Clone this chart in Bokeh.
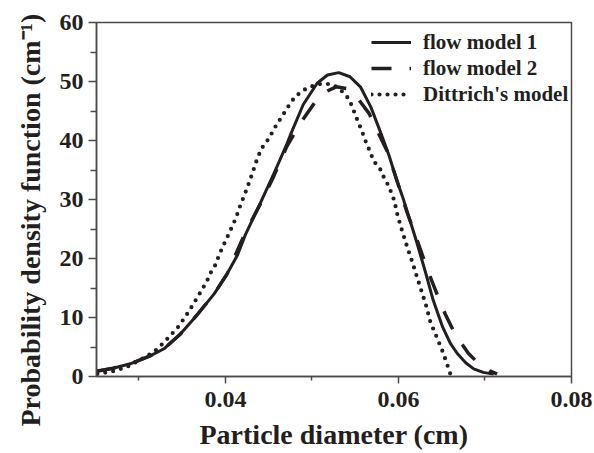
from bokeh.plotting import figure
from bokeh.models import FixedTicker, Range1d, Legend, LegendItem, Title
from bokeh.embed import file_html
from bokeh.resources import INLINE

# ---- data ----
x_flow1 = [0.0251, 0.0270, 0.0290, 0.0313, 0.0329, 0.0348, 0.0367, 0.0387, 0.0402, 0.0414,
           0.0423, 0.0441, 0.0456, 0.0471, 0.0475, 0.0490, 0.0506, 0.0518, 0.0531, 0.0544,
           0.0556, 0.0568, 0.0579, 0.0589, 0.0598, 0.0606, 0.0620, 0.0631, 0.0640, 0.0651,
           0.0660, 0.0668, 0.0678, 0.0687, 0.0698, 0.0710]
y_flow1 = [0.9, 1.4, 2.15, 3.5, 4.7, 7.2, 10.4, 14.0, 17.4, 20.6,
           24.0, 29.6, 34.4, 39.4, 40.9, 46.1, 49.7, 51.1, 51.5, 50.8,
           49.1, 45.7, 41.5, 37.5, 33.3, 29.9, 23.3, 17.8, 13.0, 8.4,
           5.6, 3.9, 2.3, 1.3, 0.7, 0.4]

x_flow2 = [0.0251, 0.0270, 0.0290, 0.0313, 0.0329, 0.0348, 0.0367, 0.0387, 0.0402, 0.0423,
           0.0441, 0.0456, 0.0471, 0.0487, 0.0504, 0.0515, 0.0528, 0.0540, 0.0550, 0.0566,
           0.0579, 0.0587, 0.0598, 0.0610, 0.0620, 0.0633, 0.0645, 0.0654, 0.0666, 0.0681,
           0.0694, 0.0706, 0.0714]
y_flow2 = [0.9, 1.4, 2.15, 3.5, 4.7, 7.2, 10.4, 14.0, 17.4, 24.4,
           29.4, 34.0, 39.0, 43.0, 46.6, 48.2, 49.1, 48.8, 47.7, 44.6,
           40.6, 38.2, 33.3, 27.8, 23.8, 18.3, 13.8, 10.6, 7.0, 3.9,
           2.0, 0.9, 0.45]

x_ditt = [0.0252, 0.0269, 0.0286, 0.0311, 0.0321, 0.0331, 0.0338, 0.0346, 0.0352, 0.0358,
          0.0363, 0.0369, 0.0374, 0.0379, 0.0383, 0.0388, 0.0392, 0.0396, 0.0404, 0.0412,
          0.0417, 0.0425, 0.0431, 0.0437, 0.0442, 0.0450, 0.0458, 0.0475, 0.0481, 0.0491,
          0.0500, 0.0510, 0.0518, 0.0527, 0.0535, 0.0543, 0.0546, 0.0550, 0.0554, 0.0558,
          0.0560, 0.0568, 0.0571, 0.0579, 0.0583, 0.0589, 0.0595, 0.0599, 0.0604, 0.0610,
          0.0616, 0.0622, 0.0627, 0.0632, 0.0637, 0.0645, 0.0652, 0.0658, 0.0660]
y_ditt = [0.45, 0.85, 1.6, 3.6, 4.6, 6.1, 7.2, 8.5, 9.8, 11.1,
          12.3, 13.75, 15.0, 16.3, 17.6, 18.8, 20.3, 21.7, 24.2, 26.8,
          28.9, 31.9, 34.4, 37.0, 38.7, 40.3, 42.4, 46.3, 47.5, 48.6,
          49.2, 49.6, 49.6, 49.2, 48.3, 47.0, 45.9, 44.4, 42.9, 41.6,
          40.6, 37.8, 36.6, 35.1, 33.8, 32.2, 29.9, 27.3, 24.8, 22.0,
          19.4, 16.6, 14.3, 12.0, 9.2, 6.4, 3.9, 1.3, 0.4]

x_major = [0.04, 0.06, 0.08]
x_minor = [0.03, 0.05, 0.07]
y_major = [0, 10, 20, 30, 40, 50, 60]
y_minor = [5, 15, 25, 35, 45, 55]

labels = ["flow model 1", "flow model 2", "Dittrich's model"]
x_title = "Particle diameter (cm)"
y_title = "Probability density function (cm\u207b\u00b9)"

INK = "#231f20"
AXC = "#4a4a4a"
FONT = "Liberation Serif"

p = figure(width=594, height=453, output_backend="svg", toolbar_location=None,
           x_range=Range1d(0.0251, 0.08), y_range=Range1d(0, 60),
           min_border_left=96, min_border_right=23, min_border_top=22, min_border_bottom=77)

p.grid.visible = False
p.outline_line_color = AXC
p.outline_line_width = 1.5
p.background_fill_color = "white"
p.border_fill_color = "white"

r1 = p.line(x_flow1, y_flow1, line_color=INK, line_width=3, line_join="round")
r2 = p.line(x_flow2, y_flow2, line_color=INK, line_width=3.5, line_dash="20 18")
r3 = p.line(x_ditt, y_ditt, line_color=INK, line_width=4.2, line_dash="0 8", line_cap="round")

xa = p.xaxis[0]
xa.ticker = FixedTicker(ticks=x_major, minor_ticks=x_minor)
xa.major_label_overrides = {0.04: "0.04", 0.06: "0.06", 0.08: "0.08"}
ya = p.yaxis[0]
ya.ticker = FixedTicker(ticks=y_major, minor_ticks=y_minor)

for ax in (xa, ya):
    ax.axis_line_color = AXC
    ax.axis_line_width = 1.5
    ax.major_tick_line_color = AXC
    ax.minor_tick_line_color = AXC
    ax.major_tick_line_width = 1.5
    ax.minor_tick_line_width = 1.5
    ax.major_tick_in = 0
    ax.minor_tick_in = 0
    ax.major_label_text_font = FONT
    ax.major_label_text_font_style = "bold"
    ax.major_label_text_font_size = "24px"
    ax.major_label_text_color = INK

xa.major_tick_out = 7
xa.minor_tick_out = 4
xa.major_label_standoff = 8
xa.axis_label = x_title
xa.axis_label_standoff = 9
xa.axis_label_text_font = FONT
xa.axis_label_text_font_style = "bold"
xa.axis_label_text_font_size = "28px"
xa.axis_label_text_color = INK

ya.major_tick_out = 8
ya.minor_tick_out = 6
ya.major_label_standoff = 5

ytitle = Title(text=y_title, align="left", offset=-50, standoff=20, vertical_align="middle",
               text_font=FONT, text_font_style="bold", text_font_size="28px", text_color=INK)
p.add_layout(ytitle, "left")

legend = Legend(items=[LegendItem(label=labels[0], renderers=[r1]),
                       LegendItem(label=labels[1], renderers=[r2]),
                       LegendItem(label=labels[2], renderers=[r3])],
                location=(275, 269))
legend.border_line_color = None
legend.background_fill_alpha = 0
legend.padding = 0
legend.margin = 0
legend.spacing = 0
legend.glyph_width = 40
legend.glyph_height = 26
legend.label_height = 26
legend.label_standoff = 12
legend.label_text_font = FONT
legend.label_text_font_style = "bold"
legend.label_text_font_size = "21px"
legend.label_text_color = INK
p.add_layout(legend)

open("out.html", "w").write(file_html(p, INLINE))
